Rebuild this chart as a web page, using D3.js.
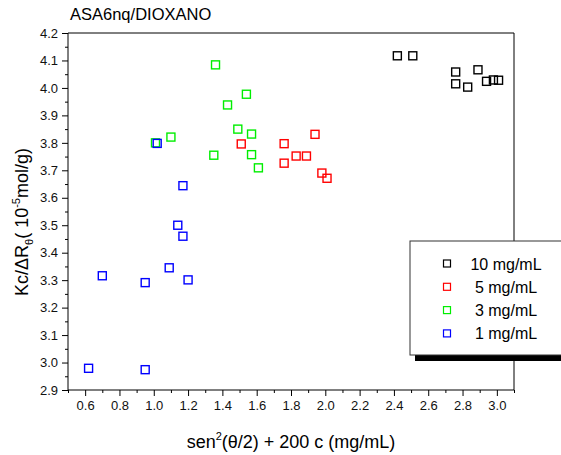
<!DOCTYPE html>
<html>
<head>
<meta charset="utf-8">
<script src="https://cdn.jsdelivr.net/npm/d3@7"></script>
<style>
  body { margin: 0; background: #fff; }
  svg { display: block; font-family: "Liberation Sans", Arial, sans-serif; }
</style>
</head>
<body>
<svg width="561" height="455"></svg>
<script>
// values
const series = ["10 mg/mL", "5 mg/mL", "3 mg/mL", "1 mg/mL"];
const colors = ["#000000", "#ff0000", "#00ee00", "#0000ff"];

const x10 = [2.42, 2.51, 2.76, 2.76, 2.83, 2.89, 2.94, 2.98, 3.01];
const y10 = [4.117, 4.117, 4.058, 4.015, 4.003, 4.066, 4.024, 4.029, 4.028];

const x5 = [1.51, 1.76, 1.94, 1.76, 1.83, 1.89, 1.98, 2.01];
const y5 = [3.796, 3.797, 3.831, 3.726, 3.752, 3.752, 3.690, 3.671];

const x3 = [1.01, 1.10, 1.35, 1.36, 1.43, 1.49, 1.54, 1.57, 1.57, 1.61];
const y3 = [3.800, 3.821, 3.755, 4.084, 3.938, 3.850, 3.977, 3.832, 3.757, 3.709];

const x1 = [0.62, 0.70, 0.95, 0.95, 1.02, 1.17, 1.14, 1.17, 1.09, 1.20];
const y1 = [2.979, 3.316, 3.291, 2.974, 3.798, 3.644, 3.500, 3.460, 3.345, 3.301];

const xTickLabels = [0.6, 0.8, 1.0, 1.2, 1.4, 1.6, 1.8, 2.0, 2.2, 2.4, 2.6, 2.8, 3.0];
const yTickLabels = [2.9, 3.0, 3.1, 3.2, 3.3, 3.4, 3.5, 3.6, 3.7, 3.8, 3.9, 4.0, 4.1, 4.2];

const svg = d3.select("svg");
const margin = {top: 33, right: 47, left: 68, bottom: 65};
const width = +svg.attr("width");
const height = +svg.attr("height");
const innerWidth = width - margin.left - margin.right;
const innerHeight = height - margin.top - margin.bottom;

const xScale = d3.scaleLinear().domain([0.5, 3.1]).range([0, innerWidth]);
const yScale = d3.scaleLinear().domain([2.9, 4.2]).range([innerHeight, 0]);

const g = svg.append("g")
  .attr("transform", `translate(${margin.left}, ${margin.top})`);

// frame (top and right)
g.append("path")
  .attr("d", `M0,0H${innerWidth}V${innerHeight}`)
  .attr("fill", "none")
  .attr("stroke", "#000");

// minor ticks
const xMinor = d3.range(5, 32, 2).map(d => d / 10);
const yMinor = d3.range(29, 42).map(d => d / 10 + 0.05);

g.append("g")
  .attr("transform", `translate(0, ${innerHeight})`)
  .call(d3.axisBottom(xScale).tickValues(xMinor).tickSize(3).tickFormat(""))
  .call(a => a.select(".domain").remove())
  .call(a => a.selectAll("text").remove());

g.append("g")
  .call(d3.axisLeft(yScale).tickValues(yMinor).tickSize(3).tickFormat(""))
  .call(a => a.select(".domain").remove())
  .call(a => a.selectAll("text").remove());

// major axes
const xAxis = g.append("g")
  .attr("transform", `translate(0, ${innerHeight})`)
  .call(d3.axisBottom(xScale).tickValues(xTickLabels).tickSize(6).tickPadding(5)
    .tickFormat(d3.format(".1f")));
xAxis.select(".domain").attr("d", `M0,0H${innerWidth}`);

const yAxis = g.append("g")
  .call(d3.axisLeft(yScale).tickValues(yTickLabels).tickSize(6).tickPadding(4)
    .tickFormat(d3.format(".1f")));
yAxis.select(".domain").attr("d", `M0,0V${innerHeight}`);

svg.selectAll(".tick text")
  .attr("font-size", 13)
  .attr("font-family", "Liberation Sans, Arial, sans-serif")
  .attr("fill", "#111");
svg.selectAll(".tick line, .domain").attr("stroke", "#000");

// data
const groups = [
  {xs: x10, ys: y10},
  {xs: x5, ys: y5},
  {xs: x3, ys: y3},
  {xs: x1, ys: y1}
];
const sz = 8;
groups.forEach((s, i) => {
  g.append("g").selectAll("rect")
    .data(s.xs.map((xv, j) => [xv, s.ys[j]]))
    .enter().append("rect")
      .attr("x", d => xScale(d[0]) - sz / 2)
      .attr("y", d => yScale(d[1]) - sz / 2)
      .attr("width", sz)
      .attr("height", sz)
      .attr("fill", "none")
      .attr("stroke", colors[i])
      .attr("stroke-width", 1.4);
});

// legend
const legend = svg.append("g").attr("transform", "translate(410, 241)");
legend.append("rect")
  .attr("x", 5).attr("y", 5).attr("width", 160).attr("height", 115)
  .attr("fill", "#000");
legend.append("rect")
  .attr("x", 0).attr("y", 0).attr("width", 160).attr("height", 114)
  .attr("fill", "#fff").attr("stroke", "#333");
series.forEach((name, i) => {
  const yy = 22.5 + i * 23.3;
  legend.append("rect")
    .attr("x", 33.5).attr("y", yy - 3.5).attr("width", 7).attr("height", 7)
    .attr("fill", "none").attr("stroke", colors[i]).attr("stroke-width", 1.2);
  legend.append("text")
    .attr("x", 96).attr("y", yy + 6)
    .attr("text-anchor", "middle")
    .attr("font-size", 16)
    .attr("fill", "#000")
    .text(name);
});

// title
svg.append("text")
  .attr("x", 70).attr("y", 20)
  .attr("font-size", 16.5)
  .attr("fill", "#000")
  .text("ASA6nq/DIOXANO");

// x axis title
const xt = svg.append("text")
  .attr("x", margin.left + innerWidth / 2).attr("y", 448)
  .attr("text-anchor", "middle")
  .attr("font-size", 18)
  .attr("fill", "#000");
xt.append("tspan").text("sen");
xt.append("tspan").attr("font-size", 11).attr("dy", -8).text("2");
xt.append("tspan").attr("dy", 8).text("(θ/2) + 200 c (mg/mL)");

// y axis title
const yt = svg.append("text")
  .attr("transform", `translate(28, 222) rotate(-90)`)
  .attr("text-anchor", "middle")
  .attr("font-size", 18)
  .attr("fill", "#000");
yt.append("tspan").text("Kc/ΔR");
yt.append("tspan").attr("font-size", 11).attr("dy", 5).text("θ");
yt.append("tspan").attr("dy", -5).text("( 10");
yt.append("tspan").attr("font-size", 11).attr("dy", -8).text("-5");
yt.append("tspan").attr("dy", 8).text("mol/g)");
</script>
</body>
</html>
